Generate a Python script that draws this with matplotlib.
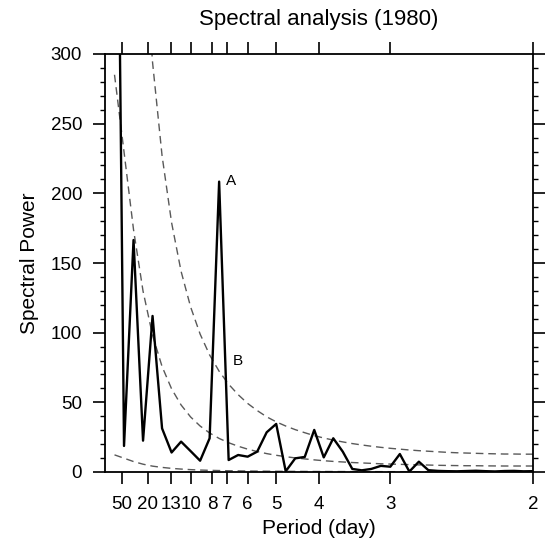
import numpy as np
import matplotlib
matplotlib.use("Agg")
import matplotlib.pyplot as plt
from matplotlib.ticker import MultipleLocator

plt.rcParams['font.family'] = ['Liberation Sans', 'DejaVu Sans']

# frequency index k = 1..45 (frequency = k/90 cycles per day)
k = np.arange(1, 46)
freq = k / 90.0

spectrum = [680, 18.7, 166.5, 22.5, 112, 31.3, 14, 21.8, 15, 8.1,
            24.2, 208.4, 8.6, 12.2, 11, 14.6, 28.5, 34.5, 0.5, 9.8,
            10.8, 30.2, 10.5, 24.2, 14.6, 2.2, 1.2, 2.2, 4.4, 3.8,
            12.9, 0.3, 7.4, 1.3, 0.8, 0.6, 0.5, 0.7, 0.9, 0.6,
            0.4, 0.7, 0.8, 0.5, 0.6]

markov = [285.1, 229.8, 173.9, 129.8, 98.1, 75.7, 59.7, 48.1, 39.5, 33.0,
          28.0, 24.1, 21.0, 18.5, 16.4, 14.7, 13.2, 12.0, 11.0, 10.1,
          9.4, 8.7, 8.1, 7.6, 7.2, 6.8, 6.5, 6.2, 5.9, 5.7,
          5.5, 5.3, 5.1, 5.0, 4.8, 4.7, 4.6, 4.5, 4.5, 4.4,
          4.35, 4.3, 4.3, 4.3, 4.3]

upper = [855, 689, 522, 389, 294, 227, 179, 144, 118.5, 99,
         84, 72.3, 63, 55.5, 49.2, 44.1, 39.6, 36.0, 33.0, 30.4,
         28.2, 26.1, 24.4, 22.9, 21.6, 20.4, 19.4, 18.5, 17.7, 17.0,
         16.4, 15.8, 15.3, 14.9, 14.5, 14.1, 13.8, 13.6, 13.4, 13.2,
         13.05, 12.9, 12.9, 12.8, 12.8]

lower = [12.3, 9.9, 7.5, 5.6, 4.2, 3.3, 2.6, 2.1, 1.7, 1.4,
         1.2, 1.04, 0.9, 0.8, 0.7, 0.63, 0.57, 0.52, 0.47, 0.44,
         0.4, 0.37, 0.35, 0.33, 0.31, 0.29, 0.28, 0.27, 0.25, 0.24,
         0.23, 0.23, 0.22, 0.21, 0.21, 0.2, 0.2, 0.19, 0.19, 0.19,
         0.19, 0.18, 0.18, 0.18, 0.18]

periods = [50, 20, 13, 10, 8, 7, 6, 5, 4, 3, 2]
period_labels = ["50", "20", "13", "10", "8", "7", "6", "5", "4", "3", "2"]

fig = plt.figure(figsize=(5.5, 5.51), dpi=100)
ax = fig.add_axes([105/550, 79/551, 428/550, 418/551])

dash_kw = dict(color='0.35', lw=1.0, dashes=(5.5, 3.5))
ax.plot(freq, lower, **dash_kw)
ax.plot(freq, markov, **dash_kw)
ax.plot(freq, upper, **dash_kw)
ax.plot(freq, spectrum, color='black', lw=1.7)

ax.text(0.1471, 209, "A", fontsize=11, ha='center', va='center')
ax.text(0.1557, 80, "B", fontsize=11, ha='center', va='center')

ax.set_xlim(0, 0.5)
ax.set_ylim(0, 300)

ax.set_xticks([1.0 / p for p in periods])
ax.set_xticklabels(period_labels)
ax.yaxis.set_major_locator(MultipleLocator(50))
ax.yaxis.set_minor_locator(MultipleLocator(10))

ax.tick_params(axis='both', which='major', direction='out', length=8.5, width=1.2,
               labelsize=13.5, top=True, right=True)
ax.tick_params(axis='x', which='major', pad=9)
ax.tick_params(axis='y', which='major', pad=8)
ax.tick_params(axis='y', which='minor', direction='out', length=3.6, width=1.0,
               right=True, left=True)
ax.tick_params(axis='x', which='minor', bottom=False, top=False)
for s in ax.spines.values():
    s.set_linewidth(1.3)

ax.set_xlabel("Period (day)", fontsize=15, labelpad=4)
ax.set_ylabel("Spectral Power", fontsize=15, labelpad=8)
ax.set_title("Spectral analysis (1980)", fontsize=16, pad=21)

fig.savefig("out.png", dpi=100)
